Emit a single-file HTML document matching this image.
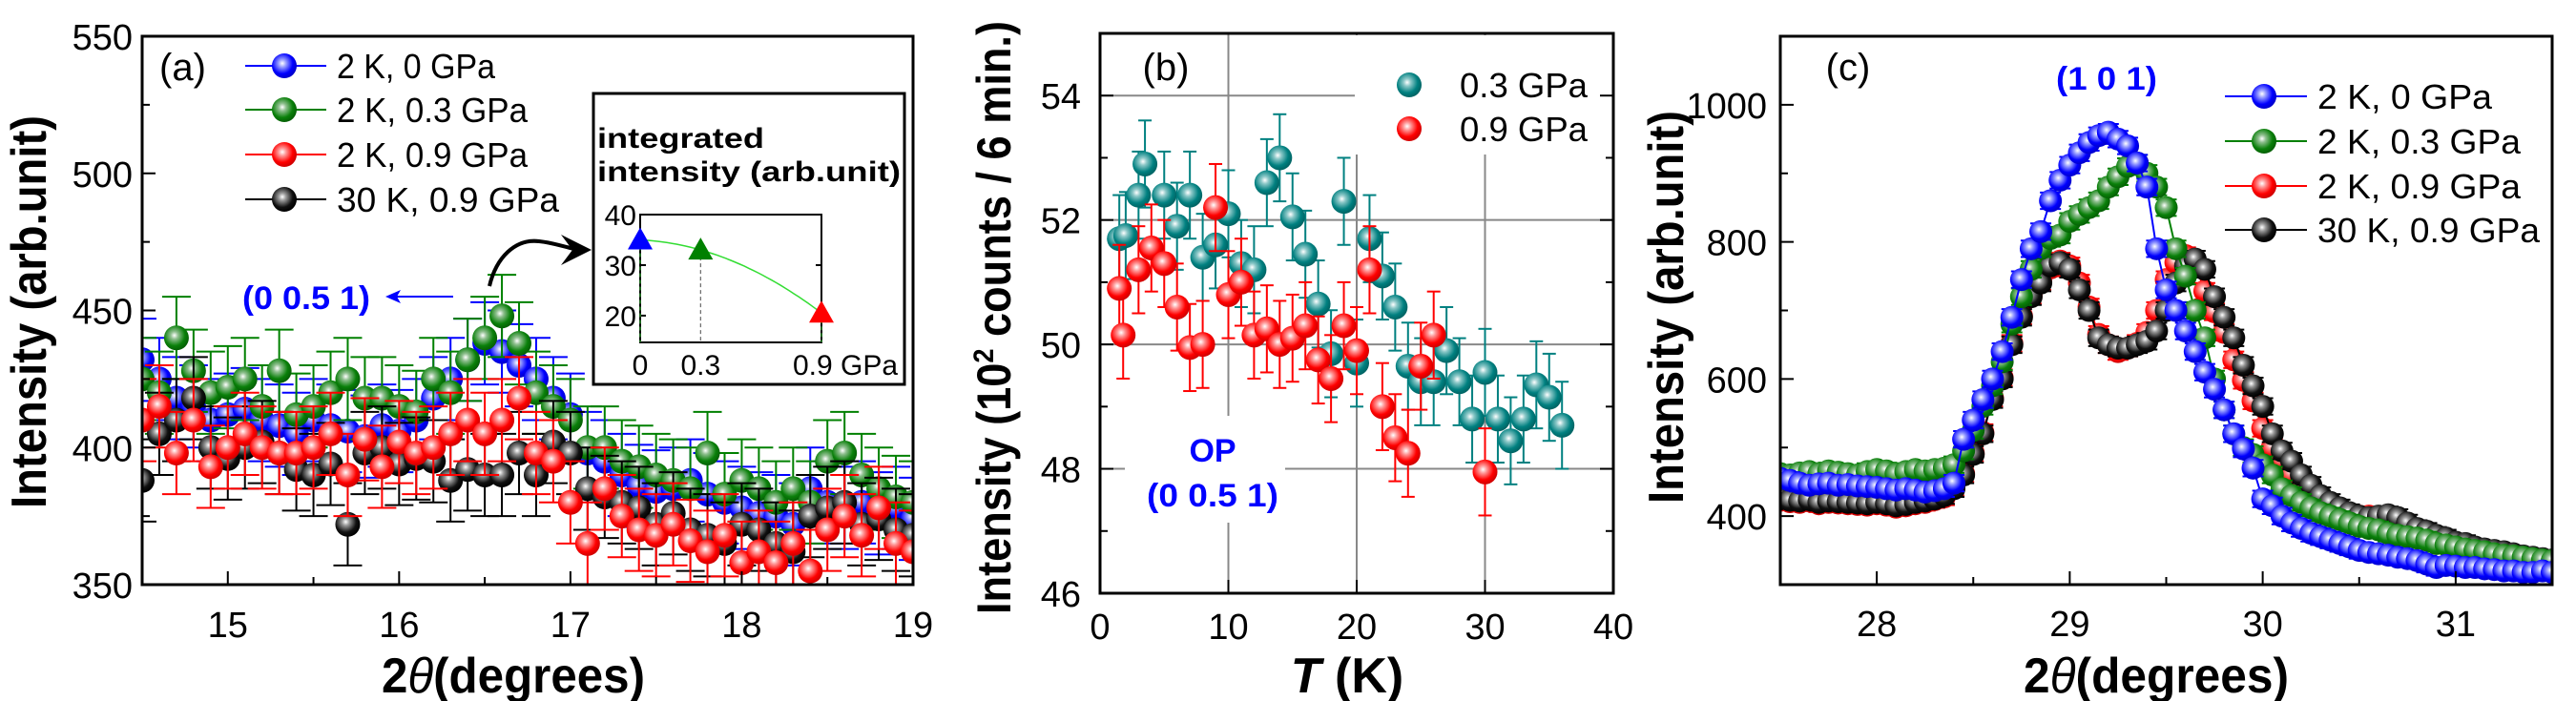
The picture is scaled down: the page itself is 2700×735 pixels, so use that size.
<!DOCTYPE html>
<html><head><meta charset="utf-8">
<style>
html,body{margin:0;padding:0;background:#fff;}
svg{display:block;font-family:"Liberation Sans",Arial,sans-serif;}
</style></head>
<body>
<svg id="fig" width="2700" height="735" viewBox="0 0 2700 735" xmlns="http://www.w3.org/2000/svg">
<defs>
<radialGradient id="g-blue" cx="0.42" cy="0.4" r="0.6"><stop offset="0" stop-color="#fff"/><stop offset="0.25" stop-color="#9aa0ff"/><stop offset="0.7" stop-color="#0000ff"/><stop offset="1" stop-color="#0000cc"/></radialGradient>
<radialGradient id="g-green" cx="0.42" cy="0.4" r="0.6"><stop offset="0" stop-color="#fff"/><stop offset="0.25" stop-color="#8fbf8f"/><stop offset="0.7" stop-color="#0a800a"/><stop offset="1" stop-color="#056005"/></radialGradient>
<radialGradient id="g-red" cx="0.42" cy="0.4" r="0.6"><stop offset="0" stop-color="#fff"/><stop offset="0.25" stop-color="#ff9a9a"/><stop offset="0.7" stop-color="#ff0000"/><stop offset="1" stop-color="#d00000"/></radialGradient>
<radialGradient id="g-black" cx="0.42" cy="0.4" r="0.6"><stop offset="0" stop-color="#fff"/><stop offset="0.25" stop-color="#999"/><stop offset="0.7" stop-color="#111"/><stop offset="1" stop-color="#000"/></radialGradient>
<radialGradient id="g-teal" cx="0.42" cy="0.4" r="0.6"><stop offset="0" stop-color="#fff"/><stop offset="0.25" stop-color="#8cc8c8"/><stop offset="0.7" stop-color="#008080"/><stop offset="1" stop-color="#006464"/></radialGradient>
<marker id="arrowhead" markerWidth="8" markerHeight="8" refX="6" refY="4" orient="auto"><path d="M0,0 L8,4 L0,8 L3,4 z" fill="#000"/></marker>
</defs>
<g id="pa"></g>
<g id="pb"></g>
<g id="pc"></g>
</svg>
<script>
// ---------- Panel (a) data ----------
const aX = [14.5,14.6,14.7,14.8,14.9,15.0,15.1,15.2,15.3,15.4,15.5,15.6,15.7,15.8,15.9,16.0,16.1,16.2,16.3,16.4,16.5,16.6,16.7,16.8,16.9,17.0,17.1,17.2,17.3,17.4,17.5,17.6,17.7,17.8,17.9,18.0,18.1,18.2,18.3,18.4,18.5,18.6,18.7,18.8,18.9,19.0];
const aGreen = [425,420,440,428,420,422,425,415,428,412,415,420,425,418,418,415,413,425,420,432,440,448,438,420,415,410,400,400,395,393,390,388,385,398,383,388,385,380,385,380,395,398,390,385,382,380];
const aBlue  = [432,425,418,415,410,412,414,410,408,405,410,408,406,404,408,406,410,418,425,432,438,435,430,425,418,412,398,395,390,386,384,385,388,383,380,378,376,375,372,385,380,378,380,376,378,374];
const aRed   = [410,415,398,410,393,400,405,400,398,398,400,405,390,403,393,402,398,400,405,410,405,410,418,398,395,380,365,385,375,370,368,372,366,362,368,358,362,358,365,355,370,375,368,378,365,362];
const aBlack = [388,405,410,418,400,396,400,402,398,392,390,394,372,398,400,394,396,395,388,392,390,390,398,390,402,398,385,382,380,378,372,376,370,368,365,372,370,365,362,375,378,380,372,374,370,368];
const insetP = [0,0.3,0.9];
const insetI = [35,33,20.5];
const aXTicks = [15,16,17,18,19];
const aYTicks = [350,400,450,500,550];
// ---------- Panel (b) data ----------
const bTealT = [1.5,2,3,3.5,5,6,7,8,9,10,11,12,13,14,15,16,17,18,19,20,21,22,23,24,25,26,27,28,29,30,31,32,33,34,35,36];
const bTealI = [51.7,51.75,52.4,52.9,52.4,51.9,52.4,51.4,51.6,52.1,51.3,51.2,52.6,53.0,52.05,51.45,50.65,49.85,52.3,49.7,51.7,51.1,50.6,49.65,49.4,49.4,49.9,49.4,48.8,49.55,48.8,48.45,48.8,49.35,49.15,48.7];
const bRedT = [1.5,1.8,3,4,5,6,7,8,9,10,11,12,13,14,15,16,17,18,19,20,21,22,23,24,25,26,30];
const bRedI = [50.9,50.15,51.2,51.55,51.3,50.6,49.95,50.0,52.2,50.8,51.0,50.15,50.25,50.0,50.1,50.3,49.75,49.45,50.3,49.9,51.2,49.0,48.5,48.25,49.65,50.15,47.95];
const bXTicks = [0,10,20,30,40];
const bYTicks = [46,48,50,52,54];
// ---------- Panel (c) data (2theta 27.5..31.5 step 0.05) ----------
const cBlue = [455,452,448,445,447,448,445,446,444,443,442,440,438,440,438,435,437,440,448,512,540,570,600,640,690,745,790,815,860,890,912,930,945,955,960,950,940,915,880,790,730,700,670,640,610,585,555,520,498,470,425,415,400,390,382,375,370,365,360,355,350,347,345,343,340,338,335,330,325,328,327,325,325,323,322,320,320,318,318,320,318];
const cGreen = [462,460,463,465,462,466,464,462,460,465,468,466,462,465,468,466,468,470,475,495,525,560,590,625,680,720,760,790,805,810,830,840,850,860,880,895,910,915,900,880,850,790,750,700,660,600,555,520,500,490,475,460,440,430,420,412,405,400,395,390,385,382,380,375,372,370,368,365,360,358,355,352,350,348,345,343,342,340,338,336,335];
const cRed = [423,421,420,422,418,420,419,418,417,416,418,416,413,415,418,420,424,428,442,462,492,522,572,602,652,692,722,742,762,772,765,740,705,665,650,640,645,652,668,700,745,770,780,768,728,698,668,628,598,568,528,500,482,462,446,432,421,413,406,402,400,400,398,395,388,382,378,372,368,362,360,355,352,350,348,345,342,340,338,336,335];
const cBlack = [425,423,422,424,420,422,421,420,419,418,420,418,415,417,420,422,425,430,440,460,490,520,570,600,650,690,720,740,765,770,760,730,700,660,650,645,645,650,655,670,700,740,765,775,760,720,690,660,620,590,560,520,495,480,460,445,430,420,412,405,400,398,400,402,398,390,382,378,372,368,362,360,355,352,350,348,345,342,340,338,336];
const cXTicks = [28,29,30,31];
const cYTicks = [400,600,800,1000];

// ---------- helpers ----------
const NS = 'http://www.w3.org/2000/svg';
function mk(parent, tag, attrs, txt){
  const e = document.createElementNS(NS, tag);
  for (const k in attrs) e.setAttribute(k, attrs[k]);
  if (txt !== undefined) e.textContent = txt;
  parent.appendChild(e);
  return e;
}
function lin(d0,d1,r0,r1){ return v => r0 + (v-d0)/(d1-d0)*(r1-r0); }
const colMap = {blue:'#0000ff', green:'#008000', red:'#ff0000', black:'#000000', teal:'#008080'};

// ================= PANEL A =================
(function(){
  const g = document.getElementById('pa');
  const L=149,R=957,T=38,B=613;
  const sx = lin(14.5,19,L,R), sy = lin(350,550,B,T);
  const clip = mk(g.ownerSVGElement.querySelector('defs'),'clipPath',{id:'clipA'});
  mk(clip,'rect',{x:L,y:T,width:R-L,height:B-T});
  const data = g.appendChild(document.createElementNS(NS,'g'));
  data.setAttribute('clip-path','url(#clipA)');
  
  
  const series = [['blue',aBlue],['green',aGreen],['black',aBlack],['red',aRed]];
  series.forEach(([c,vals])=>{
    const sg = mk(data,'g',{});
    
    
    vals.forEach((v,i)=>{
      const x=sx(aX[i]), y=sy(v), e=sy(v+15)-y;
      mk(sg,'line',{x1:x,y1:y+e,x2:x,y2:y-e,stroke:colMap[c],'stroke-width':2});
      mk(sg,'line',{x1:x-15,y1:y+e,x2:x+15,y2:y+e,stroke:colMap[c],'stroke-width':2});
      mk(sg,'line',{x1:x-15,y1:y-e,x2:x+15,y2:y-e,stroke:colMap[c],'stroke-width':2});
    });
    vals.forEach((v,i)=>{
      const p = mk(sg,'circle',{cx:sx(aX[i]),cy:sy(v),r:13,fill:'url(#g-'+c+')'});
      
      
    });
  });
  const frame = mk(g,'rect',{x:L,y:T,width:R-L,height:B-T,fill:'none',stroke:'#000','stroke-width':3});
   
  aXTicks.forEach(t=>{
    const x=sx(t);
    mk(g,'line',{x1:x,y1:B,x2:x,y2:B-14,stroke:'#000','stroke-width':2});
    const tl = mk(g,'text',{x:x,y:668,'font-size':38,'text-anchor':'middle'},String(t));
     
  });
  for (let t=14.5;t<19;t+=1){ const x=sx(t+1e-9); mk(g,'line',{x1:x,y1:B,x2:x,y2:B-8,stroke:'#000','stroke-width':2}); }
  aYTicks.forEach(t=>{
    const y=sy(t);
    mk(g,'line',{x1:L,y1:y,x2:L+14,y2:y,stroke:'#000','stroke-width':2});
    const tl = mk(g,'text',{x:139,y:y+14,'font-size':38,'text-anchor':'end'},String(t));
     
  });
  for (let t=375;t<550;t+=50){ const y=sy(t); mk(g,'line',{x1:L,y1:y,x2:L+8,y2:y,stroke:'#000','stroke-width':2}); }
  let e;
  e = mk(g,'text',{x:0,y:0,'font-size':52,'font-weight':'bold','text-anchor':'middle',transform:'translate(48,327) rotate(-90)',textLength:412,lengthAdjust:'spacingAndGlyphs'},'Intensity (arb.unit)');
   
  e = mk(g,'text',{x:538,y:726,'font-size':52,'font-weight':'bold','text-anchor':'middle',textLength:276,lengthAdjust:'spacingAndGlyphs'});
  e.innerHTML = '2<tspan font-style="italic" font-weight="normal">θ</tspan>(degrees)';
   
  e = mk(g,'text',{x:167,y:84,'font-size':40},'(a)');
   
  // legend
  const leg = [['blue','2 K, 0 GPa'],['green','2 K, 0.3 GPa'],['red','2 K, 0.9 GPa'],['black','30 K, 0.9 GPa']];
  const lys=[69,115,162,209];
  leg.forEach(([c,t],i)=>{
    const lg = mk(g,'g',{});
     
    mk(lg,'line',{x1:257,y1:lys[i],x2:342,y2:lys[i],stroke:colMap[c],'stroke-width':2});
    mk(lg,'circle',{cx:298,cy:lys[i],r:13,fill:'url(#g-'+c+')'});
    mk(lg,'text',{x:353,y:lys[i]+13,'font-size':36,textLength:[166,200,200,233][i],lengthAdjust:'spacingAndGlyphs'},t);
  });
  // annotation
  e = mk(g,'text',{x:321,y:324,'font-size':34,'font-weight':'bold',fill:'#0000ff','text-anchor':'middle',textLength:134,lengthAdjust:'spacingAndGlyphs'},'(0 0.5 1)');
   
  mk(g,'line',{x1:475,y1:311,x2:410,y2:311,stroke:'#0000ff','stroke-width':2});
  mk(g,'path',{d:'M404,311 L420,304 L416,311 L420,318 z',fill:'#0000ff'});
  e = mk(g,'path',{d:'M513,300 C520,270 540,250 565,253 C585,255 598,262 612,262',fill:'none',stroke:'#000','stroke-width':4,'marker-end':'url(#arrowhead)'});
   
  // inset
  const ig = mk(g,'g',{});
   
  mk(ig,'rect',{x:622,y:98,width:326,height:305,fill:'#fff',stroke:'#000','stroke-width':3});
  mk(ig,'text',{x:626,y:155,'font-size':30,'font-weight':'bold',textLength:175,lengthAdjust:'spacingAndGlyphs'},'integrated');
  mk(ig,'text',{x:626,y:190,'font-size':30,'font-weight':'bold',textLength:318,lengthAdjust:'spacingAndGlyphs'},'intensity (arb.unit)');
  const IL=671,IR=861,IT=225,IB=359;
  const ix = lin(0,0.9,IL,IR), iy = lin(14.7,40,IB,IT);
  mk(ig,'rect',{x:IL,y:IT,width:IR-IL,height:IB-IT,fill:'none',stroke:'#000','stroke-width':2});
  [20,30,40].forEach(t=>{
    mk(ig,'line',{x1:IL,y1:iy(t),x2:IL+6,y2:iy(t),stroke:'#000','stroke-width':2});
    mk(ig,'line',{x1:IR,y1:iy(t),x2:IR-6,y2:iy(t),stroke:'#000','stroke-width':2});
    mk(ig,'text',{x:IL-4,y:iy(t)+11,'font-size':30,'text-anchor':'end'},String(t));
  });
  [['0',0],['0.3',0.3]].forEach(([s,v])=>mk(ig,'text',{x:ix(v),y:393,'font-size':30,'text-anchor':'middle'},s));
  mk(ig,'text',{x:ix(0.9)-30,y:393,'font-size':30,'text-anchor':'start'},'0.9 GPa');
  // smooth quadratic curve through the three points
  const [p0,p1,p2]=insetP, [v0,v1,v2]=insetI;
  let d='';
  for(let k=0;k<=40;k++){
    const p=p0+(p2-p0)*k/40;
    const v=v0*((p-p1)*(p-p2))/((p0-p1)*(p0-p2))+v1*((p-p0)*(p-p2))/((p1-p0)*(p1-p2))+v2*((p-p0)*(p-p1))/((p2-p0)*(p2-p1));
    d+=(k?'L':'M')+ix(p).toFixed(1)+','+iy(v).toFixed(1);
  }
  mk(ig,'path',{d:d,fill:'none',stroke:'#33dd33','stroke-width':1.5});
  const icol=['blue','green','red'];
  insetP.forEach((p,i)=>{
    const x=ix(p), y=iy(insetI[i]);
    mk(ig,'line',{x1:x,y1:y,x2:x,y2:IB,stroke:i==1?'#666':'#33aa33','stroke-width':1.2,'stroke-dasharray':'4,3'});
    const tri = mk(ig,'path',{d:`M${x},${y-13} L${x+13},${y+10} L${x-13},${y+10} z`,fill:colMap[icol[i]]});
     
  });
})();

// ================= PANEL B =================
(function(){
  const g = document.getElementById('pb');
  const L=1153,R=1691,T=35,B=622;
  const sx = lin(0,40,L,R), sy = lin(46,55,B,T);
  // grid
  [10,20,30].forEach(t=>mk(g,'line',{x1:sx(t),y1:T,x2:sx(t),y2:B,stroke:'#888','stroke-width':2}));
  [48,50,52,54].forEach(t=>mk(g,'line',{x1:L,y1:sy(t),x2:R,y2:sy(t),stroke:'#888','stroke-width':2}));
  mk(g,'rect',{x:1420,y:37,width:269,height:125,fill:'#fff'});
  mk(g,'rect',{x:1179,y:436,width:168,height:112,fill:'#fff'});
  mk(g,'rect',{x:1155,y:37,width:120,height:60,fill:'#fff'});
  const sets=[['teal',bTealT,bTealI],['red',bRedT,bRedI]];
  sets.forEach(([c,ts,vs])=>{
    const sg = mk(g,'g',{});
     
    vs.forEach((v,i)=>{
      const x=sx(ts[i]), y=sy(v), e=sy(v+0.7)-y;
      mk(sg,'line',{x1:x,y1:y+e,x2:x,y2:y-e,stroke:colMap[c],'stroke-width':2});
      mk(sg,'line',{x1:x-7,y1:y+e,x2:x+7,y2:y+e,stroke:colMap[c],'stroke-width':2});
      mk(sg,'line',{x1:x-7,y1:y-e,x2:x+7,y2:y-e,stroke:colMap[c],'stroke-width':2});
    });
    vs.forEach((v,i)=>{
      const p = mk(sg,'circle',{cx:sx(ts[i]),cy:sy(v),r:13,fill:'url(#g-'+c+')'});
       
    });
  });
  const frame = mk(g,'rect',{x:L,y:T,width:R-L,height:B-T,fill:'none',stroke:'#000','stroke-width':3});
   
  bXTicks.forEach(t=>{
    const tl = mk(g,'text',{x:sx(t),y:670,'font-size':38,'text-anchor':'middle'},String(t));
     
    mk(g,'line',{x1:sx(t),y1:B,x2:sx(t),y2:B-14,stroke:'#000','stroke-width':2});
  });
  bYTicks.forEach(t=>{
    const y=sy(t);
    mk(g,'line',{x1:L,y1:y,x2:L+14,y2:y,stroke:'#000','stroke-width':2});
    mk(g,'line',{x1:R,y1:y,x2:R-14,y2:y,stroke:'#000','stroke-width':2});
    const tl = mk(g,'text',{x:1133,y:y+14,'font-size':38,'text-anchor':'end'},String(t));
     
  });
  for(let t=47;t<55;t+=2){ const y=sy(t);
    mk(g,'line',{x1:L,y1:y,x2:L+8,y2:y,stroke:'#000','stroke-width':2});
    mk(g,'line',{x1:R,y1:y,x2:R-8,y2:y,stroke:'#000','stroke-width':2}); }
  let e;
  e = mk(g,'text',{x:0,y:0,'font-size':50,'font-weight':'bold','text-anchor':'middle',transform:'translate(1059,333) rotate(-90)',textLength:622,lengthAdjust:'spacingAndGlyphs'});
  e.innerHTML='Intensity (10<tspan dy="-18" font-size="30">2</tspan><tspan dy="18"> counts / 6 min.)</tspan>';
   
  e = mk(g,'text',{x:1412,y:726,'font-size':52,'font-weight':'bold','text-anchor':'middle'});
  e.innerHTML='<tspan font-style="italic">T</tspan> (K)';
   
  e = mk(g,'text',{x:1222,y:84,'font-size':40,'text-anchor':'middle'},'(b)');
   
  [['teal','0.3 GPa',89],['red','0.9 GPa',135]].forEach(([c,t,y])=>{
    const lg = mk(g,'g',{});
     
    mk(lg,'circle',{cx:1477,cy:y,r:13,fill:'url(#g-'+c+')'});
    mk(lg,'text',{x:1530,y:y+13,'font-size':36,textLength:134,lengthAdjust:'spacingAndGlyphs'},t);
  });
  e = mk(g,'text',{x:1271,y:484,'font-size':34,'font-weight':'bold',fill:'#0000ff','text-anchor':'middle'},'OP');
   
  e = mk(g,'text',{x:1271,y:531,'font-size':34,'font-weight':'bold',fill:'#0000ff','text-anchor':'middle',textLength:138,lengthAdjust:'spacingAndGlyphs'},'(0 0.5 1)');
   
})();

// ================= PANEL C =================
(function(){
  const g = document.getElementById('pc');
  const L=1866,R=2675,T=38,B=613;
  const sx = lin(27.5,31.5,L,R), sy = lin(300,1100,B,T);
  const cX = cBlue.map((_,i)=>27.5+0.05*i);
  const clip = mk(g.ownerSVGElement.querySelector('defs'),'clipPath',{id:'clipC'});
  mk(clip,'rect',{x:L,y:T,width:R-L,height:B-T});
  const data = mk(g,'g',{'clip-path':'url(#clipC)'});
   
  const series=[['red',cRed],['black',cBlack],['green',cGreen],['blue',cBlue]];
  series.forEach(([c,vals])=>{
    const sg = mk(data,'g',{});
     
    mk(sg,'path',{d:vals.map((v,i)=>(i?'L':'M')+sx(cX[i]).toFixed(1)+','+sy(v).toFixed(1)).join(''),fill:'none',stroke:colMap[c],'stroke-width':2});
    vals.forEach((v,i)=>{
      const x=sx(cX[i]), y=sy(v), e=sy(v+12)-y;
      mk(sg,'line',{x1:x,y1:y+e,x2:x,y2:y-e,stroke:colMap[c],'stroke-width':2});
      mk(sg,'line',{x1:x-11,y1:y+e,x2:x+11,y2:y+e,stroke:colMap[c],'stroke-width':2});
      mk(sg,'line',{x1:x-11,y1:y-e,x2:x+11,y2:y-e,stroke:colMap[c],'stroke-width':2});
    });
    vals.forEach((v,i)=>{
      const p = mk(sg,'circle',{cx:sx(cX[i]),cy:sy(v),r:12,fill:'url(#g-'+c+')'});
       
    });
  });
  const frame = mk(g,'rect',{x:L,y:T,width:R-L,height:B-T,fill:'none',stroke:'#000','stroke-width':3});
   
  cXTicks.forEach(t=>{
    mk(g,'line',{x1:sx(t),y1:B,x2:sx(t),y2:B-14,stroke:'#000','stroke-width':2});
    const tl = mk(g,'text',{x:sx(t),y:667,'font-size':38,'text-anchor':'middle'},String(t));
     
  });
  for(let t=28.5;t<31.5;t+=1) mk(g,'line',{x1:sx(t),y1:B,x2:sx(t),y2:B-8,stroke:'#000','stroke-width':2});
  cYTicks.forEach(t=>{
    const y=sy(t);
    mk(g,'line',{x1:L,y1:y,x2:L+14,y2:y,stroke:'#000','stroke-width':2});
    const tl = mk(g,'text',{x:1852,y:y+14,'font-size':38,'text-anchor':'end'},String(t));
     
  });
  for(let t=500;t<1100;t+=200) mk(g,'line',{x1:L,y1:sy(t),x2:L+8,y2:sy(t),stroke:'#000','stroke-width':2});
  let e;
  e = mk(g,'text',{x:0,y:0,'font-size':52,'font-weight':'bold','text-anchor':'middle',transform:'translate(1764,322) rotate(-90)',textLength:412,lengthAdjust:'spacingAndGlyphs'},'Intensity (arb.unit)');
   
  e = mk(g,'text',{x:2260,y:726,'font-size':52,'font-weight':'bold','text-anchor':'middle',textLength:278,lengthAdjust:'spacingAndGlyphs'});
  e.innerHTML='2<tspan font-style="italic" font-weight="normal">θ</tspan>(degrees)';
   
  e = mk(g,'text',{x:1937,y:84,'font-size':40,'text-anchor':'middle'},'(c)');
   
  e = mk(g,'text',{x:2208,y:94,'font-size':34,'font-weight':'bold',fill:'#0000ff','text-anchor':'middle',textLength:106,lengthAdjust:'spacingAndGlyphs'},'(1 0 1)');
   
  const leg=[['blue','2 K, 0 GPa'],['green','2 K, 0.3 GPa'],['red','2 K, 0.9 GPa'],['black','30 K, 0.9 GPa']];
  const lys=[101,148,195,241];
  leg.forEach(([c,t],i)=>{
    const lg = mk(g,'g',{});
     
    mk(lg,'line',{x1:2332,y1:lys[i],x2:2418,y2:lys[i],stroke:colMap[c],'stroke-width':2});
    mk(lg,'circle',{cx:2373,cy:lys[i],r:13,fill:'url(#g-'+c+')'});
    mk(lg,'text',{x:2429,y:lys[i]+13,'font-size':36,textLength:[183,213,213,233][i],lengthAdjust:'spacingAndGlyphs'},t);
  });
})();
</script>
</body></html>
